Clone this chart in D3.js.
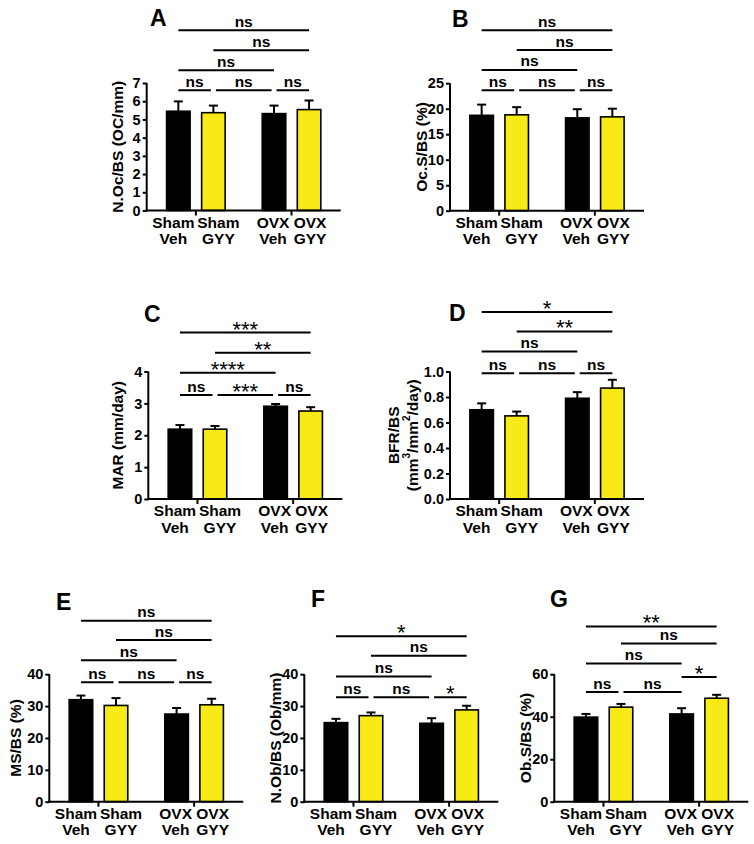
<!DOCTYPE html>
<html>
<head>
<meta charset="utf-8">
<script src="https://cdn.jsdelivr.net/npm/d3@7"></script>
<style>
  html, body { margin: 0; padding: 0; background: #fff; }
  text { font-family: Arial, "Liberation Sans", sans-serif; }
</style>
</head>
<body>
<svg id="chart" width="754" height="844"></svg>
<script>
// ---------- data ----------
const groups = ["Sham", "OVX"];
const treatments = ["Veh", "GYY"];
const barColors = ["#000000", "#f7ea16"];

const meansA = [5.45, 5.37, 5.32, 5.54];
const semA   = [0.54, 0.39, 0.44, 0.50];
const meansB = [18.7, 18.8, 18.2, 18.4];
const semB   = [2.1, 1.5, 1.7, 1.6];
const meansC = [2.19, 2.19, 2.91, 2.76];
const semC   = [0.13, 0.10, 0.07, 0.12];
const meansD = [0.70, 0.652, 0.79, 0.87];
const semD   = [0.05, 0.034, 0.048, 0.065];
const meansE = [32.0, 30.2, 27.5, 30.4];
const semE   = [1.3, 2.3, 1.9, 1.9];
const meansF = [24.8, 27.0, 24.6, 28.8];
const semF   = [1.2, 1.0, 1.6, 1.3];
const meansG = [39.8, 44.5, 41.3, 48.7];
const semG   = [1.5, 1.5, 2.7, 1.6];

const yMaxA = 7,  yTicksA = [0, 1, 2, 3, 4, 5, 6, 7];
const yMaxB = 25, yTicksB = [0, 5, 10, 15, 20, 25];
const yMaxC = 4,  yTicksC = [0, 1, 2, 3, 4];
const yMaxD = 1,  yTicksD = [0, 0.2, 0.4, 0.6, 0.8, 1.0];
const yMaxE = 40, yTicksE = [0, 10, 20, 30, 40];
const yMaxF = 40, yTicksF = [0, 10, 20, 30, 40];
const yMaxG = 60, yTicksG = [0, 20, 40, 60];

const yLabelA = ["N.Oc/BS (OC/mm)"];
const yLabelB = ["Oc.S/BS (%)"];
const yLabelC = ["MAR (mm/day)"];
const yLabelD = ["BFR/BS", "(mm^3/mm^2/day)"];
const yLabelE = ["MS/BS (%)"];
const yLabelF = ["N.Ob/BS (Ob/mm)"];
const yLabelG = ["Ob.S/BS (%)"];

// brackets: [barFrom, barTo, level (data units), label]
const bracketsA = [[0,1,6.6,"ns"],[1,2,6.6,"ns"],[2,3,6.6,"ns"],[0,2,7.7,"ns"],[1,3,8.8,"ns"],[0,3,9.9,"ns"]];
const bracketsB = [[0,1,23.6,"ns"],[1,2,23.6,"ns"],[2,3,23.6,"ns"],[0,2,27.6,"ns"],[1,3,31.5,"ns"],[0,3,35.4,"ns"]];
const bracketsC = [[0,1,3.26,"ns"],[1,2,3.26,"***"],[2,3,3.26,"ns"],[0,2,3.96,"****"],[1,3,4.59,"**"],[0,3,5.22,"***"]];
const bracketsD = [[0,1,0.987,"ns"],[1,2,0.987,"ns"],[2,3,0.987,"ns"],[0,2,1.157,"ns"],[1,3,1.314,"**"],[0,3,1.467,"*"]];
const bracketsE = [[0,1,37.5,"ns"],[1,2,37.5,"ns"],[2,3,37.5,"ns"],[0,2,44.4,"ns"],[1,3,50.7,"ns"],[0,3,56.8,"ns"]];
const bracketsF = [[0,1,32.8,"ns"],[1,2,32.8,"ns"],[2,3,32.8,"*"],[0,2,39.3,"ns"],[1,3,45.8,"ns"],[0,3,51.9,"*"]];
const bracketsG = [[0,1,51.6,"ns"],[1,2,51.6,"ns"],[2,3,58.7,"*"],[0,2,65,"ns"],[1,3,74.4,"ns"],[0,3,82.5,"**"]];

// ---------- layout ----------
const plotW = 194, plotH = 127.5;
const labelNudge = [-5, 5, -1, 1];
const panels = [
  {id:"A", ox:146.7, oy:210.5, means:meansA, sem:semA, yMax:yMaxA, ticks:yTicksA, fmt:d3.format("d"),   label:yLabelA, br:bracketsA, lx:150,   ly:25.5,  labOff:[30]},
  {id:"B", ox:450,   oy:210.7, means:meansB, sem:semB, yMax:yMaxB, ticks:yTicksB, fmt:d3.format("d"),   label:yLabelB, br:bracketsB, lx:452,   ly:27,    labOff:[29]},
  {id:"C", ox:148.3, oy:499,   means:meansC, sem:semC, yMax:yMaxC, ticks:yTicksC, fmt:d3.format("d"),   label:yLabelC, br:bracketsC, lx:144,   ly:322,   labOff:[31]},
  {id:"D", ox:450,   oy:499,   means:meansD, sem:semD, yMax:yMaxD, ticks:yTicksD, fmt:d3.format(".1f"), label:yLabelD, br:bracketsD, lx:449,   ly:320.5, labOff:[57, 38]},
  {id:"E", ox:49.3,  oy:801.7, means:meansE, sem:semE, yMax:yMaxE, ticks:yTicksE, fmt:d3.format("d"),   label:yLabelE, br:bracketsE, lx:56,    ly:609.5, labOff:[34]},
  {id:"F", ox:304.3, oy:801.7, means:meansF, sem:semF, yMax:yMaxF, ticks:yTicksF, fmt:d3.format("d"),   label:yLabelF, br:bracketsF, lx:311,   ly:607,   labOff:[29.5]},
  {id:"G", ox:554.3, oy:801.7, means:meansG, sem:semG, yMax:yMaxG, ticks:yTicksG, fmt:d3.format("d"),   label:yLabelG, br:bracketsG, lx:550,   ly:607,   labOff:[29.5]}
];

const svg = d3.select("#chart");

panels.forEach(p => {
  const g = svg.append("g").attr("transform", `translate(${p.ox},${p.oy - plotH})`);

  const y = d3.scaleLinear().domain([0, p.yMax]).range([plotH, 0]);
  const xGroup = d3.scaleBand().domain(groups).range([0, plotW]).paddingInner(0.372).paddingOuter(0.2);
  const xInner = d3.scaleBand().domain(treatments).range([0, xGroup.bandwidth()]).paddingInner(0.2857).paddingOuter(0);

  const bars = [];
  groups.forEach((gr, gi) => treatments.forEach((tr, ti) => {
    const i = gi * 2 + ti;
    bars.push({gr, tr, ti, i, v: p.means[i], e: p.sem[i], x: xGroup(gr) + xInner(tr)});
  }));
  const bw = xInner.bandwidth();
  const cx = i => bars[i].x + bw / 2;

  // bars
  g.selectAll("rect.bar").data(bars).join("rect")
    .attr("class", "bar")
    .attr("x", d => d.x + 0.75)
    .attr("width", bw - 1.5)
    .attr("y", d => y(d.v))
    .attr("height", d => plotH - y(d.v))
    .attr("fill", d => barColors[d.ti])
    .attr("stroke", "#000").attr("stroke-width", 1.6);

  // error bars (upper only)
  g.selectAll("line.err").data(bars).join("line")
    .attr("x1", d => d.x + bw / 2).attr("x2", d => d.x + bw / 2)
    .attr("y1", d => y(d.v)).attr("y2", d => y(d.v + d.e))
    .attr("stroke", "#000").attr("stroke-width", 2);
  g.selectAll("line.cap").data(bars).join("line")
    .attr("x1", d => d.x + bw / 2 - 4.5).attr("x2", d => d.x + bw / 2 + 4.5)
    .attr("y1", d => y(d.v + d.e)).attr("y2", d => y(d.v + d.e))
    .attr("stroke", "#000").attr("stroke-width", 2);

  // y axis
  const yAxis = d3.axisLeft(y).tickValues(p.ticks).tickFormat(p.fmt).tickSize(4).tickPadding(2);
  const ya = g.append("g").call(yAxis);
  ya.select(".domain").attr("stroke-width", 2).attr("d", `M0,${plotH + 1}V0`);
  ya.selectAll(".tick line").attr("stroke-width", 2);
  ya.selectAll(".tick text").attr("font-size", 14.5).attr("font-weight", "bold")
    .attr("font-family", 'Arial, "Liberation Sans", sans-serif').attr("fill", "#000");

  // x axis
  const xAxis = d3.axisBottom(xGroup).tickSize(5).tickFormat("");
  const xa = g.append("g").attr("transform", `translate(0,${plotH})`).call(xAxis);
  xa.select(".domain").attr("stroke-width", 2).attr("d", `M-1,0H${plotW}`);
  xa.selectAll(".tick line").attr("stroke-width", 2);

  // x labels
  const lx = d => d.x + bw / 2 + labelNudge[d.i];
  const xl = g.selectAll("text.xl").data(bars).join("text")
    .attr("class", "xl")
    .attr("x", lx)
    .attr("y", plotH + 17)
    .attr("text-anchor", "middle")
    .attr("font-size", 15.5).attr("font-weight", "bold");
  xl.append("tspan").attr("x", lx).text(d => d.gr);
  xl.append("tspan").attr("x", lx).attr("dy", 16.5).text(d => d.tr);

  // y label
  p.label.forEach((line, li) => {
    const t = g.append("text")
      .attr("transform", `translate(${-p.labOff[li]},${plotH / 2}) rotate(-90)`)
      .attr("text-anchor", "middle")
      .attr("dominant-baseline", "central")
      .attr("font-size", 15.5).attr("font-weight", "bold");
    const parts = line.split(/\^(\d)/);
    parts.forEach((part, k) => {
      if (!part) return;
      if (k % 2 === 1) {
        t.append("tspan").attr("font-size", 10).attr("baseline-shift", "super").text(part);
      } else {
        t.append("tspan").text(part);
      }
    });
  });

  // brackets
  const br = p.br.map(b => ({i: b[0], j: b[1], lv: b[2], lab: b[3]}));
  br.forEach(b => {
    const leftTouch = br.some(o => o !== b && o.lv === b.lv && o.j === b.i);
    const rightTouch = br.some(o => o !== b && o.lv === b.lv && o.i === b.j);
    b.x1 = cx(b.i) + (leftTouch ? 2.5 : 0);
    b.x2 = cx(b.j) - (rightTouch ? 2.5 : 0);
  });
  g.selectAll("line.br").data(br).join("line")
    .attr("x1", d => d.x1).attr("x2", d => d.x2)
    .attr("y1", d => y(d.lv)).attr("y2", d => y(d.lv))
    .attr("stroke", "#000").attr("stroke-width", 2);
  g.selectAll("text.br").data(br).join("text")
    .attr("x", d => (d.x1 + d.x2) / 2)
    .attr("y", d => d.lab === "ns" ? y(d.lv) - 3.5 : y(d.lv) + 4)
    .attr("text-anchor", "middle")
    .attr("font-size", d => d.lab === "ns" ? 15.5 : 22)
    .attr("font-weight", d => d.lab === "ns" ? "bold" : "normal")
    .text(d => d.lab);

  // panel letter
  svg.append("text")
    .attr("x", p.lx).attr("y", p.ly)
    .attr("font-size", 23).attr("font-weight", "bold")
    .text(p.id);
});
</script>
</body>
</html>
